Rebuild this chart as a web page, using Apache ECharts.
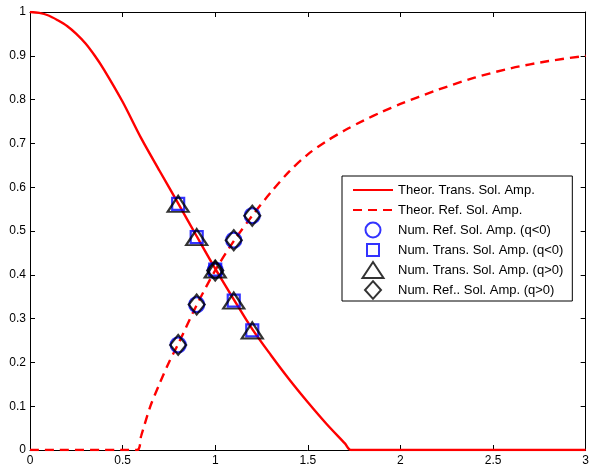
<!DOCTYPE html>
<html>
<head>
<meta charset="utf-8">
<script src="https://cdn.jsdelivr.net/npm/echarts@6/dist/echarts.min.js"></script>
<style>
  html, body { margin: 0; padding: 0; background: #fff; }
  #main { width: 592px; height: 470px; }
</style>
</head>
<body>
<div id="main"></div>
<script>
// theoretical curves
var xTrans = [0, 0.05, 0.1, 0.15, 0.2, 0.25, 0.3, 0.35, 0.4, 0.5, 0.6, 0.7, 0.8, 0.9, 1.0, 1.1, 1.2, 1.3, 1.4, 1.5, 1.6, 1.7, 1.732, 3];
var transTheory = [1.0, 0.998, 0.992, 0.981, 0.968, 0.95, 0.928, 0.9, 0.868, 0.795, 0.712, 0.637, 0.563, 0.488, 0.414, 0.344, 0.276, 0.217, 0.161, 0.109, 0.06, 0.015, 0, 0];

var xRef = [0, 0.577, 0.6, 0.65, 0.7, 0.75, 0.8, 0.9, 1.0, 1.1, 1.2, 1.3, 1.4, 1.5, 1.6, 1.7, 1.8, 1.9, 2.0, 2.2, 2.4, 2.6, 2.8, 3.0];
var refTheory = [0, 0, 0.032, 0.1, 0.152, 0.2, 0.242, 0.331, 0.41, 0.477, 0.535, 0.588, 0.636, 0.675, 0.705, 0.73, 0.752, 0.772, 0.79, 0.822, 0.85, 0.872, 0.888, 0.9];

// numerical points
var xNum = [0.8, 0.9, 1.0, 1.1, 1.2];
var refNumNeg = [0.24, 0.332, 0.41, 0.479, 0.535];
var transNumNeg = [0.562, 0.486, 0.412, 0.341, 0.273];
var transNumPos = [0.562, 0.486, 0.412, 0.341, 0.273];
var refNumPos = [0.24, 0.332, 0.41, 0.479, 0.535];

var names = [
    'Theor. Trans. Sol. Amp.',
    'Theor. Ref. Sol. Amp.',
    'Num. Ref. Sol. Amp. (q<0)',
    'Num. Trans. Sol. Amp. (q<0)',
    'Num. Trans. Sol. Amp. (q>0)',
    'Num. Ref.. Sol. Amp. (q>0)'
];

function pairs(xs, ys) {
    var out = [];
    for (var i = 0; i < xs.length; i++) {
        out.push([xs[i], ys[i]]);
    }
    return out;
}

// legend icons: drawn in a 40x18 box (corner points keep the box, so the marker keeps its size)
var box = 'M0,0 L0,0 M40,18 L40,18 ';
var iconCircle = 'path://' + box + 'M12.5,9 A7.5,7.5 0 1 1 27.5,9 A7.5,7.5 0 1 1 12.5,9 Z';
var iconSquare = 'path://' + box + 'M14,3 L26,3 L26,15 L14,15 Z';
var iconTriangle = 'path://' + box + 'M20,1 L30.5,17 L9.5,17 Z';
var iconDiamond = 'path://' + box + 'M20,0.2 L28,9 L20,17.8 L12,9 Z';

var font = 'Liberation Sans, Arial, sans-serif';

var tickStyle = { show: true, inside: true, length: 5, lineStyle: { color: '#000', width: 1 } };
var lineAxis = { show: true, onZero: false, lineStyle: { color: '#000', width: 1 } };

var myChart = echarts.init(document.getElementById('main'));
var option = {
    animation: false,
    textStyle: { fontFamily: font },
    grid: { left: 30, right: 6, top: 12, bottom: 20 },
    xAxis: [{
        type: 'value',
        min: 0, max: 3, interval: 0.5,
        axisLine: lineAxis,
        axisTick: tickStyle,
        axisLabel: { color: '#000', fontSize: 12, fontFamily: font, margin: 5 },
        splitLine: { show: false }
    }, {
        type: 'value',
        position: 'top',
        min: 0, max: 3, interval: 0.5,
        axisLine: lineAxis,
        axisTick: tickStyle,
        axisLabel: { show: false },
        splitLine: { show: false }
    }],
    yAxis: [{
        type: 'value',
        min: 0, max: 1, interval: 0.1,
        axisLine: lineAxis,
        axisTick: tickStyle,
        axisLabel: { color: '#000', fontSize: 12, fontFamily: font, margin: 4 },
        splitLine: { show: false }
    }, {
        type: 'value',
        position: 'right',
        min: 0, max: 1, interval: 0.1,
        axisLine: lineAxis,
        axisTick: tickStyle,
        axisLabel: { show: false },
        splitLine: { show: false }
    }],
    legend: {
        orient: 'vertical',
        left: 342,
        top: 176,
        padding: [4, 9, 1, 10],
        itemWidth: 40,
        itemHeight: 18,
        itemGap: 0,
        itemTextGap: 5,
        symbolKeepAspect: true,
        backgroundColor: '#fff',
        borderColor: '#000',
        borderWidth: 1,
        borderRadius: 0,
        textStyle: { color: '#000', fontSize: 13, lineHeight: 20, fontFamily: font },
        data: [
            { name: names[0], itemStyle: { opacity: 0 } },
            { name: names[1], itemStyle: { opacity: 0 } },
            { name: names[2], icon: iconCircle },
            { name: names[3], icon: iconSquare },
            { name: names[4], icon: iconTriangle },
            { name: names[5], icon: iconDiamond }
        ]
    },
    series: [{
        name: names[0],
        type: 'line',
        data: pairs(xTrans, transTheory),
        symbol: 'none',
        smooth: 0.3,
        lineStyle: { color: '#ff0000', width: 2.4 },
        itemStyle: { color: '#ff0000' },
        z: 2
    }, {
        name: names[1],
        type: 'line',
        data: pairs(xRef, refTheory),
        symbol: 'none',
        smooth: 0.3,
        lineStyle: { color: '#ff0000', width: 2.4, type: [9, 6] },
        itemStyle: { color: '#ff0000' },
        z: 2
    }, {
        name: names[2],
        type: 'scatter',
        data: pairs(xNum, refNumNeg),
        symbol: 'circle',
        symbolSize: 15,
        itemStyle: { color: 'rgba(0,0,0,0)', borderColor: '#0000ff', borderWidth: 2.2 },
        z: 3
    }, {
        name: names[3],
        type: 'scatter',
        data: pairs(xNum, transNumNeg),
        symbol: 'rect',
        symbolSize: 12,
        itemStyle: { color: 'rgba(0,0,0,0)', borderColor: '#0000ff', borderWidth: 2.2 },
        z: 4
    }, {
        name: names[4],
        type: 'scatter',
        data: pairs(xNum, transNumPos),
        symbol: 'triangle',
        symbolSize: [21, 16],
        itemStyle: { color: 'rgba(0,0,0,0)', borderColor: '#000', borderWidth: 2.2 },
        z: 5
    }, {
        name: names[5],
        type: 'scatter',
        data: pairs(xNum, refNumPos),
        symbol: 'diamond',
        symbolSize: [16, 20],
        itemStyle: { color: 'rgba(0,0,0,0)', borderColor: '#000', borderWidth: 2.2 },
        z: 6
    }]
};
myChart.setOption(option);
</script>
</body>
</html>
